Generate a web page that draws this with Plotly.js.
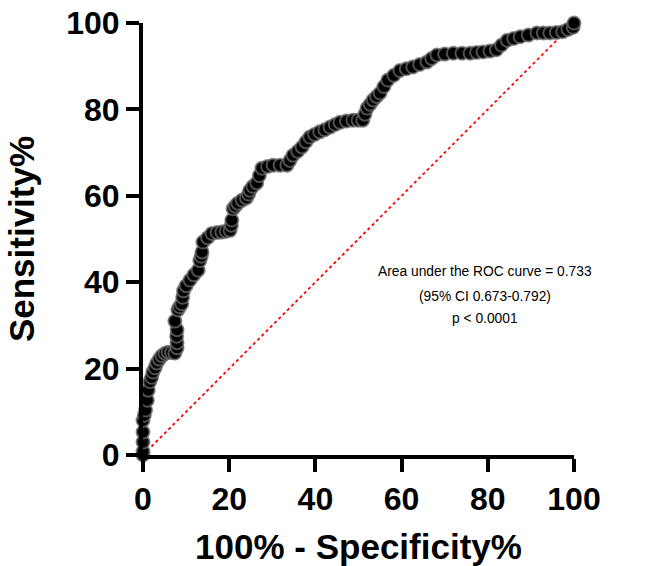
<!DOCTYPE html>
<html>
<head>
<meta charset="utf-8">
<script src="https://cdn.plot.ly/plotly-3.0.1.min.js"></script>
<style>html,body{margin:0;padding:0;background:#fff;}#chart{width:652px;height:566px;}</style>
</head>
<body>
<div id="chart"></div>
<script>
// 100% - Specificity% (x) and Sensitivity% (y) for the ROC curve
const fpr = [0,0,0,0,0,0.3,0.6,1,1.2,1.6,
  2,2.3,2.8,3.2,3.8,4.4,5.1,5.8,6.6,7.4,
  7.9,7.9,7.8,7.9,7.4,8.1,8.5,9,9.2,9.4,
  10,10.9,11.8,12.8,13.2,13.5,13.7,13.9,15,16,
  17.2,18.3,19.3,20.2,20.5,20.6,20.9,21.4,22,23,
  24,24.5,24.8,25.5,26.4,27,27.6,28.9,30.2,31.8,
  33.4,34.1,34.8,35.9,36.9,37.8,38.7,39.8,41,42.2,
  43.4,44.6,45.7,47.2,48.7,49.9,51,51.5,52,52.7,
  53.4,54.2,55,55.9,56.8,58.2,59.6,61.1,62.6,64.2,
  65.9,67,68.2,70,72,74,75.9,77.4,78.9,80.5,
  82,83.2,84.5,86,87.5,89.4,91.4,92.9,94.4,95.9,
  97.4,98.6,99.8,100];
const tpr = [0,0.8,3,5.3,8,9.2,10.4,12.7,15,17,
  18,19.2,20.2,21.3,22.2,23,23.5,23.8,23.7,23.6,
  24.8,26,27.5,29,31,33.6,34.3,35,36.5,38,
  39.2,40.5,41.7,42.8,45,46,47,49.3,50.3,51.3,
  51.5,51.6,51.8,52,53.2,54.4,57,57.6,58.3,59,
  59.5,60.4,61.3,62.2,63,64.7,66.4,66.8,67.1,67.1,
  67.1,68.2,69.4,70.3,71.3,72.5,73.6,74.2,74.8,75.3,
  75.9,76.5,77,77.3,77.5,77.5,77.5,78.9,80.3,81.2,
  82.2,83,83.8,85.3,86.8,87.9,89,89.4,89.8,90.4,
  91,91.8,92.6,92.8,93,93,93,93.2,93.3,93.5,
  93.8,94.9,96,96.4,96.8,97.2,97.7,97.7,97.7,97.8,
  98,98.5,99,100];
// Reference (chance) line
const refX = [0, 100];
const refY = [0, 100];
const tickVals = [0, 20, 40, 60, 80, 100];
const annoLines = ["Area under the ROC curve = 0.733", "(95% CI 0.673-0.792)", "p < 0.0001"];
const annoX = [79.4, 79.4, 79.4];
const annoY = [42.4, 36.8, 31.5];

const boldFont = {family: 'Liberation Sans, Arial, sans-serif', color: '#000', weight: 'bold'};

const traces = [
  {x: refX, y: refY, mode: 'lines', type: 'scatter', hoverinfo: 'skip',
   line: {color: '#ff0000', width: 1.8, dash: 'dot'}, cliponaxis: false},
  {x: fpr, y: tpr, mode: 'markers', type: 'scatter', cliponaxis: false,
   marker: {color: '#000', size: 13, line: {color: 'rgba(105,105,105,0.75)', width: 2}}}
];

const annotations = annoLines.map((t, i) => ({
  x: annoX[i], y: annoY[i], xref: 'x', yref: 'y', text: t, showarrow: false,
  font: {family: 'Liberation Sans, Arial, sans-serif', size: 13.8, color: '#000'},
  xanchor: 'center', yanchor: 'middle'
}));

const layout = {
  width: 652, height: 566,
  margin: {l: 143, r: 78, t: 23, b: 111},
  paper_bgcolor: '#fff', plot_bgcolor: '#fff',
  showlegend: false,
  xaxis: {
    range: [0, 100], tickvals: tickVals, ticktext: tickVals.map(String),
    showgrid: false, zeroline: false, showline: true, linecolor: '#000', linewidth: 4,
    ticks: 'outside', ticklen: 13, tickwidth: 4, tickcolor: '#000',
    tickfont: Object.assign({size: 32}, boldFont),
    title: {text: '100% - Specificity%', font: Object.assign({size: 35}, boldFont), standoff: 19}
  },
  yaxis: {
    range: [0, 100], tickvals: tickVals, ticktext: tickVals.map(String),
    showgrid: false, zeroline: false, showline: true, linecolor: '#000', linewidth: 4,
    ticks: 'outside', ticklen: 13, tickwidth: 4, tickcolor: '#000',
    tickfont: Object.assign({size: 32}, boldFont),
    title: {text: 'Sensitivity%', font: Object.assign({size: 35}, boldFont), standoff: 22}
  },
  annotations: annotations
};

Plotly.newPlot('chart', traces, layout, {displayModeBar: false, staticPlot: true});
</script>
</body>
</html>
